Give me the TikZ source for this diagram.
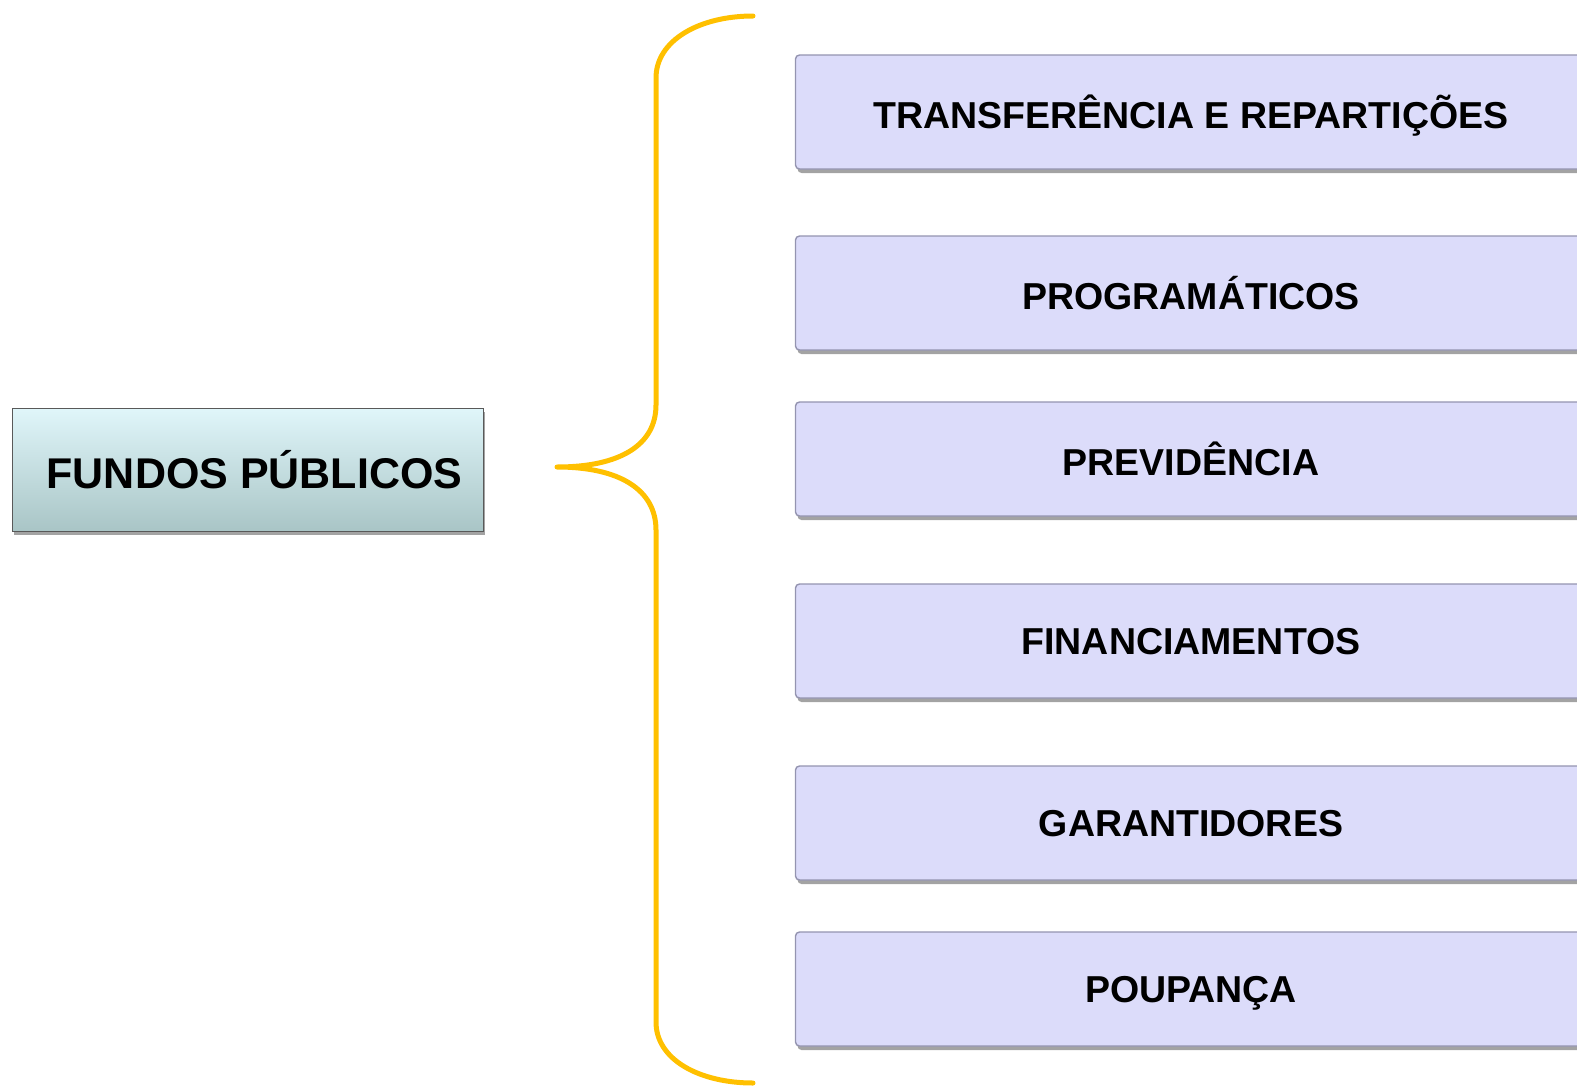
\documentclass[tikz,border=0pt]{standalone}
\usepackage{fontspec}
\setmainfont{Liberation Sans}
\usetikzlibrary{shadows}
\definecolor{braceC}{HTML}{FFC000}
\definecolor{lav}{HTML}{DCDCFA}
\definecolor{lavEdge}{HTML}{9494B0}
\definecolor{tealTop}{HTML}{E0F6FA}
\definecolor{tealBot}{HTML}{A9C5C6}
\tikzset{
  rbox/.style={draw=lavEdge, line width=1.4pt, fill=lav, rounded corners=4pt,
    minimum width=791pt, minimum height=114pt, inner sep=0pt, text depth=0pt,
    font=\fontsize{37.5}{40}\selectfont\bfseries,
    drop shadow={shadow xshift=2pt, shadow yshift=-4pt, fill=black!60, opacity=0.6}},
  lbox/.style={draw=gray!70!black, line width=1pt, top color=tealTop, bottom color=tealBot,
    minimum width=471pt, minimum height=123pt, inner sep=0pt,
    font=\fontsize{43}{46}\selectfont\bfseries,
    drop shadow={shadow xshift=2pt, shadow yshift=-4pt, fill=black!60, opacity=0.6}},
  bracestyle/.style={draw=braceC, line width=5pt, line cap=round, line join=round}
}
\begin{document}
\begin{tikzpicture}[x=1pt,y=-1pt]
\useasboundingbox (0,0) rectangle (1577,1087);
\node[lbox] (fp) at (247.5,469.5) {\hspace*{14pt}FUNDOS PÚBLICOS};
\node[rbox] (b1) at (1191,112) {TRANSFERÊNCIA E REPARTIÇÕES};
\node[rbox] (b2) at (1191,293) {PROGRAMÁTICOS};
\node[rbox] (b3) at (1191,459) {PREVIDÊNCIA};
\node[rbox] (b4) at (1191,641) {FINANCIAMENTOS};
\node[rbox] (b5) at (1191,823) {GARANTIDORES};
\node[rbox] (b6) at (1191,989) {POUPANÇA};
\coordinate (btop) at (753,16);
\coordinate (btip) at (557,467);
\coordinate (bbot) at (753,1083);
\draw[bracestyle] (btop) .. controls (700,16) and (656,40) .. (656,78)
  -- (656,405) .. controls (656,445) and (620,467) .. (btip)
  .. controls (620,467) and (656,490) .. (656,530)
  -- (656,1022) .. controls (656,1060) and (700,1083) .. (bbot);
\end{tikzpicture}
\end{document}
